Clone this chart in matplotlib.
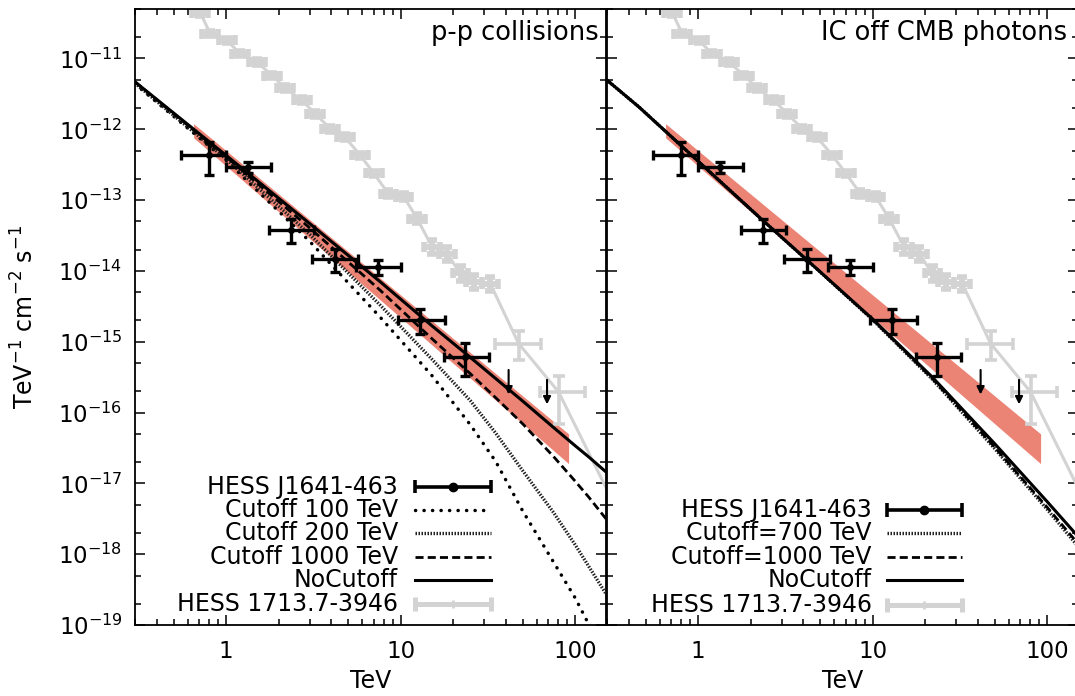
import matplotlib
matplotlib.use("Agg")
import matplotlib.pyplot as plt
from matplotlib.ticker import LogLocator, NullFormatter, FixedLocator, FixedFormatter
import numpy as np

plt.rcParams['font.family'] = ['DejaVu Sans']
plt.rcParams['mathtext.fontset'] = 'dejavusans'

# ---------------- data ----------------
# HESS J1641-463
j_E = [0.80, 1.34, 2.35, 4.21, 7.45, 12.9, 23.2]
j_Elo = [0.55, 1.00, 1.75, 3.10, 5.56, 9.7, 17.6]
j_Ehi = [1.00, 1.80, 3.19, 5.66, 10.0, 18.0, 31.9]
j_F = [4.3e-13, 2.94e-13, 3.74e-14, 1.49e-14, 1.13e-14, 2.0e-15, 6.1e-16]
j_Flo = [2.24e-13, 2.4e-13, 2.5e-14, 9.7e-15, 8.7e-15, 1.3e-15, 3.25e-16]
j_Fhi = [6.6e-13, 3.5e-13, 5.5e-14, 2.07e-14, 1.41e-14, 2.93e-15, 9.6e-16]
ul_E = [41.5, 68.9]
ul_F = [4.0e-16, 2.9e-16]

# HESS 1713.7-3946 (first and last points lie outside the window)
r_E = [0.56, 0.71, 0.81, 1.01, 1.2, 1.5, 1.83, 2.18, 2.71, 3.24, 3.94, 4.78, 5.86,
       7.0, 8.5, 10.4, 12.4, 15.1, 18.4, 22.0, 26.2, 32.6, 47.4, 80.3, 180.0]
r_F = [5.8e-11, 4.4e-11, 2.25e-11, 1.8e-11, 1.17e-11, 8.9e-12, 5.75e-12, 3.8e-12,
       2.57e-12, 1.66e-12, 1.02e-12, 7.8e-13, 4.3e-13, 2.4e-13, 1.23e-13, 1.12e-13,
       5.5e-14, 2.2e-14, 1.76e-14, 9.2e-15, 7.0e-15, 6.6e-15, 9.4e-16, 1.95e-16, 3.5e-18]
r_Elo = [0.56, 0.64, 0.73, 0.91, 1.08, 1.35, 1.65, 1.96, 2.44, 2.92, 3.55, 4.3, 5.28,
         6.31, 7.66, 9.37, 11.2, 13.6, 16.6, 19.8, 23.6, 29.4, 34.8, 62.5, 180.0]
r_Ehi = [0.56, 0.79, 0.90, 1.12, 1.33, 1.66, 2.03, 2.42, 3.0, 3.6, 4.37, 5.3, 6.5,
         7.77, 9.43, 11.5, 13.8, 16.8, 20.4, 24.4, 29.1, 36.2, 63.8, 114.0, 180.0]
r_Flo = [5.8e-11, 4.0e-11, 2.05e-11, 1.64e-11, 1.07e-11, 8.1e-12, 5.24e-12, 3.47e-12,
         2.34e-12, 1.51e-12, 9.3e-13, 7.1e-13, 3.9e-13, 2.2e-13, 1.1e-13, 1.0e-13,
         4.8e-14, 1.75e-14, 1.4e-14, 7.3e-15, 5.6e-15, 5.2e-15, 5.6e-16, 7.0e-17, 3.5e-18]
r_Fhi = [5.8e-11, 4.8e-11, 2.47e-11, 1.97e-11, 1.28e-11, 9.8e-12, 6.3e-12, 4.2e-12,
         2.82e-12, 1.82e-12, 1.12e-12, 8.6e-13, 4.7e-13, 2.6e-13, 1.38e-13, 1.25e-13,
         6.3e-14, 2.77e-14, 2.2e-14, 1.16e-14, 8.8e-15, 8.3e-15, 1.4e-15, 3.3e-16, 3.5e-18]

# fit butterfly of HESS J1641-463
band_E = [0.65, 91.6]
band_lo = [7.6e-13, 1.9e-17]
band_hi = [1.2e-12, 5.0e-17]

# p-p collision models
pp_E = [0.3, 1, 3, 7.6, 15, 25, 35, 50, 75, 100, 120, 150]
pp_nocut = [4.68e-12, 4.27e-13, 4.68e-14, 7.08e-15, 1.70e-15, 6.03e-16, 3.02e-16,
            1.45e-16, 6.17e-17, 3.39e-17, 2.34e-17, 1.45e-17]
pp_cut1000 = [4.68e-12, 4.07e-13, 4.07e-14, 5.37e-15, 1.12e-15, 3.55e-16, 1.62e-16,
              6.92e-17, 2.40e-17, 1.07e-17, 6.31e-18, 3.16e-18]
pp_cut200 = [4.47e-12, 3.80e-13, 3.31e-14, 3.31e-15, 5.75e-16, 1.48e-16, 5.13e-17,
             1.51e-17, 3.89e-18, 1.35e-18, 6.61e-19, 2.75e-19]
pp_cut100 = [4.37e-12, 3.63e-13, 2.63e-14, 2.24e-15, 3.39e-16, 6.76e-17, 2.04e-17,
             4.07e-18, 7.76e-19, 2.40e-19, 1.0e-19, 2.88e-20]

# inverse Compton models
ic_E = [0.3, 0.457, 1, 2.28, 5, 9.9, 21.9, 50, 100, 150]
ic_nocut = [4.94e-12, 2.07e-12, 3.53e-13, 5.50e-14, 9.68e-15, 2.13e-15, 3.18e-16,
            3.63e-17, 5.50e-18, 1.78e-18]
ic_cut1000 = [4.94e-12, 2.07e-12, 3.53e-13, 5.50e-14, 9.68e-15, 2.10e-15, 3.04e-16,
              3.24e-17, 4.57e-18, 1.41e-18]
ic_cut700 = [4.94e-12, 2.07e-12, 3.53e-13, 5.50e-14, 9.68e-15, 2.08e-15, 2.97e-16,
             3.09e-17, 4.27e-18, 1.29e-18]

x_ticks = [1, 10, 100]
x_ticklabels = ['1', '10', '100']
y_ticks = [1e-19, 1e-18, 1e-17, 1e-16, 1e-15, 1e-14, 1e-13, 1e-12, 1e-11]
y_ticklabels = [r'$10^{-19}$', r'$10^{-18}$', r'$10^{-17}$', r'$10^{-16}$', r'$10^{-15}$',
                r'$10^{-14}$', r'$10^{-13}$', r'$10^{-12}$', r'$10^{-11}$']

# ---------------- styles ----------------
GRAY = '#d3d3d3'
RED = '#ec8476'
FS_LEG = 17
sty_cut100 = dict(color='k', lw=2.5, ls=(0, (0.05, 2.4)), dash_capstyle='round')
sty_fine = dict(color='#222222', lw=2.4, ls=(0, (0.45, 0.45)))
sty_dash = dict(color='k', lw=2.0, ls=(0, (2.9, 1.5)))
sty_solid = dict(color='k', lw=2.2)

fig = plt.figure(figsize=(10.75, 6.96), dpi=100)
W, H = 1075.0, 696.0
axL = fig.add_axes([135 / W, 1 - 625 / H, 471 / W, 616 / H])
axR = fig.add_axes([607 / W, 1 - 625 / H, 471 / W, 616 / H])


def draw_common(ax):
    ax.set_xscale('log')
    ax.set_yscale('log')
    ax.fill_between(band_E, band_lo, band_hi, color=RED, lw=0, zorder=1)
    ax.plot(r_E, r_F, color=GRAY, lw=2.2, zorder=2)
    rE = np.array(r_E); rF = np.array(r_F)
    xe = np.array([rE - np.array(r_Elo), np.array(r_Ehi) - rE])
    ye = np.array([rF - np.array(r_Flo), np.array(r_Fhi) - rF])
    narrow = slice(0, 22)
    wide = slice(22, None)
    ax.errorbar(rE[narrow], rF[narrow], xerr=xe[:, narrow], yerr=ye[:, narrow],
                fmt='none', ecolor=GRAY, elinewidth=4.2, capsize=3.6, capthick=4.0, zorder=2)
    ax.errorbar(rE[wide], rF[wide], xerr=xe[:, wide], yerr=ye[:, wide],
                fmt='none', ecolor=GRAY, elinewidth=2.6, capsize=4.5, capthick=2.6, zorder=2)


def draw_points(ax):
    E = np.array(j_E); F = np.array(j_F)
    ax.errorbar(E, F, xerr=[E - np.array(j_Elo), np.array(j_Ehi) - E],
                yerr=[F - np.array(j_Flo), np.array(j_Fhi) - F],
                fmt='o', ms=4, color='k', elinewidth=2.4, capsize=3.6, capthick=2.4, zorder=6)
    for e, f in zip(ul_E, ul_F):
        ax.annotate('', xy=(e, f * 0.45), xytext=(e, f),
                    arrowprops=dict(arrowstyle='-|>', color='k', lw=1.5,
                                    mutation_scale=11, shrinkA=0, shrinkB=0),
                    zorder=6)


def style_axes(ax, ylabels=True):
    ax.set_xlim(0.3, 150)
    ax.set_ylim(1e-19, 5e-11)
    ax.xaxis.set_major_locator(FixedLocator(x_ticks))
    ax.xaxis.set_major_formatter(FixedFormatter(x_ticklabels))
    ax.xaxis.set_minor_locator(LogLocator(base=10, subs=np.arange(2, 10), numticks=30))
    ax.xaxis.set_minor_formatter(NullFormatter())
    ax.yaxis.set_major_locator(FixedLocator(y_ticks))
    ax.yaxis.set_major_formatter(FixedFormatter(y_ticklabels))
    ax.yaxis.set_minor_locator(LogLocator(base=10, subs=(2, 5), numticks=30))
    ax.yaxis.set_minor_formatter(NullFormatter())
    ax.tick_params(which='both', direction='in', top=True, right=True, width=1.1)
    ax.tick_params(which='major', length=7.5, labelsize=16.5)
    ax.tick_params(which='minor', length=4)
    ax.tick_params(axis='x', pad=11)
    ax.tick_params(axis='y', pad=9)
    if not ylabels:
        ax.tick_params(axis='y', labelleft=False)
    for s in ax.spines.values():
        s.set_linewidth(1.3)
    ax.set_xlabel('TeV', fontsize=17)
    ax.xaxis.set_label_coords(0.5, -0.072)


def legend(ax, entries, x_text, x0, x1, ys):
    tr = ax.transAxes
    for (label, kind, sty), y in zip(entries, ys):
        ax.text(x_text, y, label, transform=tr, ha='right', va='center', fontsize=FS_LEG)
        if kind == 'line':
            ax.plot([x0, x1], [y, y], transform=tr, clip_on=False, **sty)
        elif kind == 'err':
            c, lw, cap, mk = sty
            ax.plot([x0, x1], [y, y], transform=tr, clip_on=False, color=c, lw=lw,
                    solid_capstyle='butt')
            for xx in (x0, x1):
                ax.plot([xx, xx], [y - cap, y + cap], transform=tr, clip_on=False,
                        color=c, lw=lw, solid_capstyle='butt')
            xm = 0.5 * (x0 + x1)
            if mk:
                ax.plot([xm], [y], 'o', ms=6, color=c, transform=tr, clip_on=False)
            else:
                ax.plot([xm, xm], [y - cap * 0.6, y + cap * 0.6], transform=tr,
                        clip_on=False, color=c, lw=2, solid_capstyle='butt')


# ---------------- left panel ----------------
draw_common(axL)
axL.plot(pp_E, pp_cut100, zorder=3, **sty_cut100)
axL.plot(pp_E, pp_cut200, zorder=3, **sty_fine)
axL.plot(pp_E, pp_cut1000, zorder=4, **sty_dash)
axL.plot(pp_E, pp_nocut, zorder=5, **sty_solid)
draw_points(axL)
style_axes(axL, True)
axL.set_ylabel(r'TeV$^{-1}$ cm$^{-2}$ s$^{-1}$', fontsize=17)
axL.yaxis.set_label_coords(-0.205, 0.5)
axL.text(0.985, 0.961, 'p-p collisions', transform=axL.transAxes, ha='right',
         va='center', fontsize=18.5)
legend(axL,
       [('HESS J1641-463', 'err', ('k', 2.6, 0.011, True)),
        ('Cutoff 100 TeV', 'line', sty_cut100),
        ('Cutoff 200 TeV', 'line', sty_fine),
        ('Cutoff 1000 TeV', 'line', sty_dash),
        ('NoCutoff', 'line', sty_solid),
        ('HESS 1713.7-3946', 'err', (GRAY, 3.6, 0.011, False))],
       0.558, 0.5945, 0.7552,
       [0.2245, 0.1867, 0.1488, 0.1110, 0.0731, 0.0341])

# ---------------- right panel ----------------
draw_common(axR)
axR.plot(ic_E, ic_cut700, zorder=3, **sty_fine)
axR.plot(ic_E, ic_cut1000, zorder=4, **sty_dash)
axR.plot(ic_E, ic_nocut, zorder=5, **sty_solid)
draw_points(axR)
style_axes(axR, False)
axR.text(0.976, 0.961, 'IC off CMB photons', transform=axR.transAxes, ha='right',
         va='center', fontsize=18.5)
legend(axR,
       [('HESS J1641-463', 'err', ('k', 2.6, 0.011, True)),
        ('Cutoff=700 TeV', 'line', sty_fine),
        ('Cutoff=1000 TeV', 'line', sty_dash),
        ('NoCutoff', 'line', sty_solid),
        ('HESS 1713.7-3946', 'err', (GRAY, 3.6, 0.011, False))],
       0.562, 0.5938, 0.7531,
       [0.1867, 0.1488, 0.1110, 0.0731, 0.0325])

fig.savefig('out.png', dpi=100)
